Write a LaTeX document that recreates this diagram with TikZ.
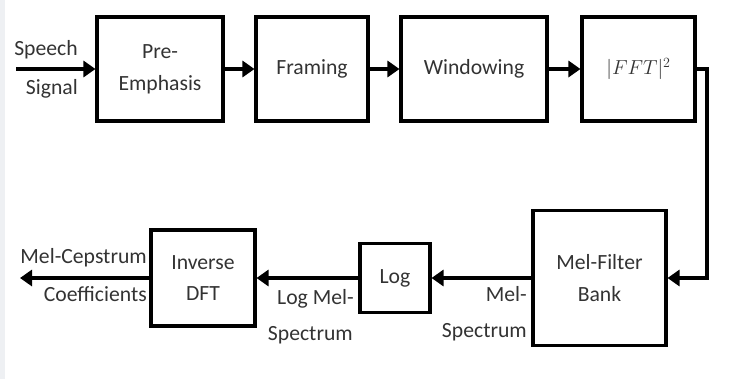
\documentclass[tikz,border=0pt]{standalone}
\usepackage{fontspec}
\setmainfont{Carlito}
\usepackage{xcolor}
\definecolor{mfcink}{HTML}{333333}
\definecolor{mfcedge}{HTML}{EEF0F3}
\usepackage{tikz}
\usetikzlibrary{arrows.meta,positioning}
\tikzset{
  mfcbox/.style={draw,line width=2.6pt,align=center,text=mfcink,font=\fontsize{18.5}{27}\selectfont,inner sep=0pt},
  mfcflow/.style={-{Triangle[length=0.36cm,width=0.48cm]},line width=2.6pt},
  mfclabel/.style={anchor=east,text=mfcink,font=\fontsize{18.5}{22}\selectfont,inner sep=0pt},
}

\begin{document}
\begin{tikzpicture}[x=0.03cm,y=-0.03cm]
\useasboundingbox (0,0) rectangle (741,379);
\fill[mfcedge] (0,0) rectangle (5,379);
% top row
\node[mfcbox,minimum width=3.78cm,minimum height=3.12cm] (pe) at (160,69) {Pre-\\Emphasis};
\node[mfcbox,minimum width=3.36cm,minimum height=3.12cm] (fr) at (312,69) {Framing};
\node[mfcbox,minimum width=4.38cm,minimum height=3.12cm] (wi) at (474,69) {Windowing};
\node[mfcbox,minimum width=3.39cm,minimum height=3.12cm] (fft) at (638.5,69) {$|FFT|^2$};
% bottom row
\node[mfcbox,minimum width=3.99cm,minimum height=4.05cm] (mel) at (599.5,278) {Mel-Filter\\Bank};
\node[mfcbox,minimum width=2.1cm,minimum height=2.07cm] (lg) at (395,278) {Log};
\node[mfcbox,minimum width=3.12cm,minimum height=2.88cm] (inv) at (203,278) {Inverse\\DFT};
\coordinate (in) at (16,69);
\coordinate (turn) at (707,69);
\coordinate (out) at (20,278);
\draw[mfcflow](in)--(pe);\draw[mfcflow](pe)--(fr);\draw[mfcflow](fr)--(wi);\draw[mfcflow](wi)--(fft);
\draw[mfcflow](fft.east)--(turn)|-(mel.east);
\draw[mfcflow](mel)--(lg);\draw[mfcflow](lg)--(inv);\draw[mfcflow](inv)--(out);
% labels
\node[mfclabel] (sp) at (78,50) {Speech};
\node[mfclabel] (sg) at (78,89) {Signal};
\node[mfclabel] (mc) at (147,258) {Mel-Cepstrum};
\node[mfclabel] (co) at (147,294) {Coefficients};
\node[mfclabel] (lm) at (354,299) {Log Mel-};
\node[mfclabel] (ls) at (353,335) {Spectrum};
\node[mfclabel] (ml) at (527,294) {Mel-};
\node[mfclabel] (ms) at (527,332) {Spectrum};
\end{tikzpicture}
\end{document}
